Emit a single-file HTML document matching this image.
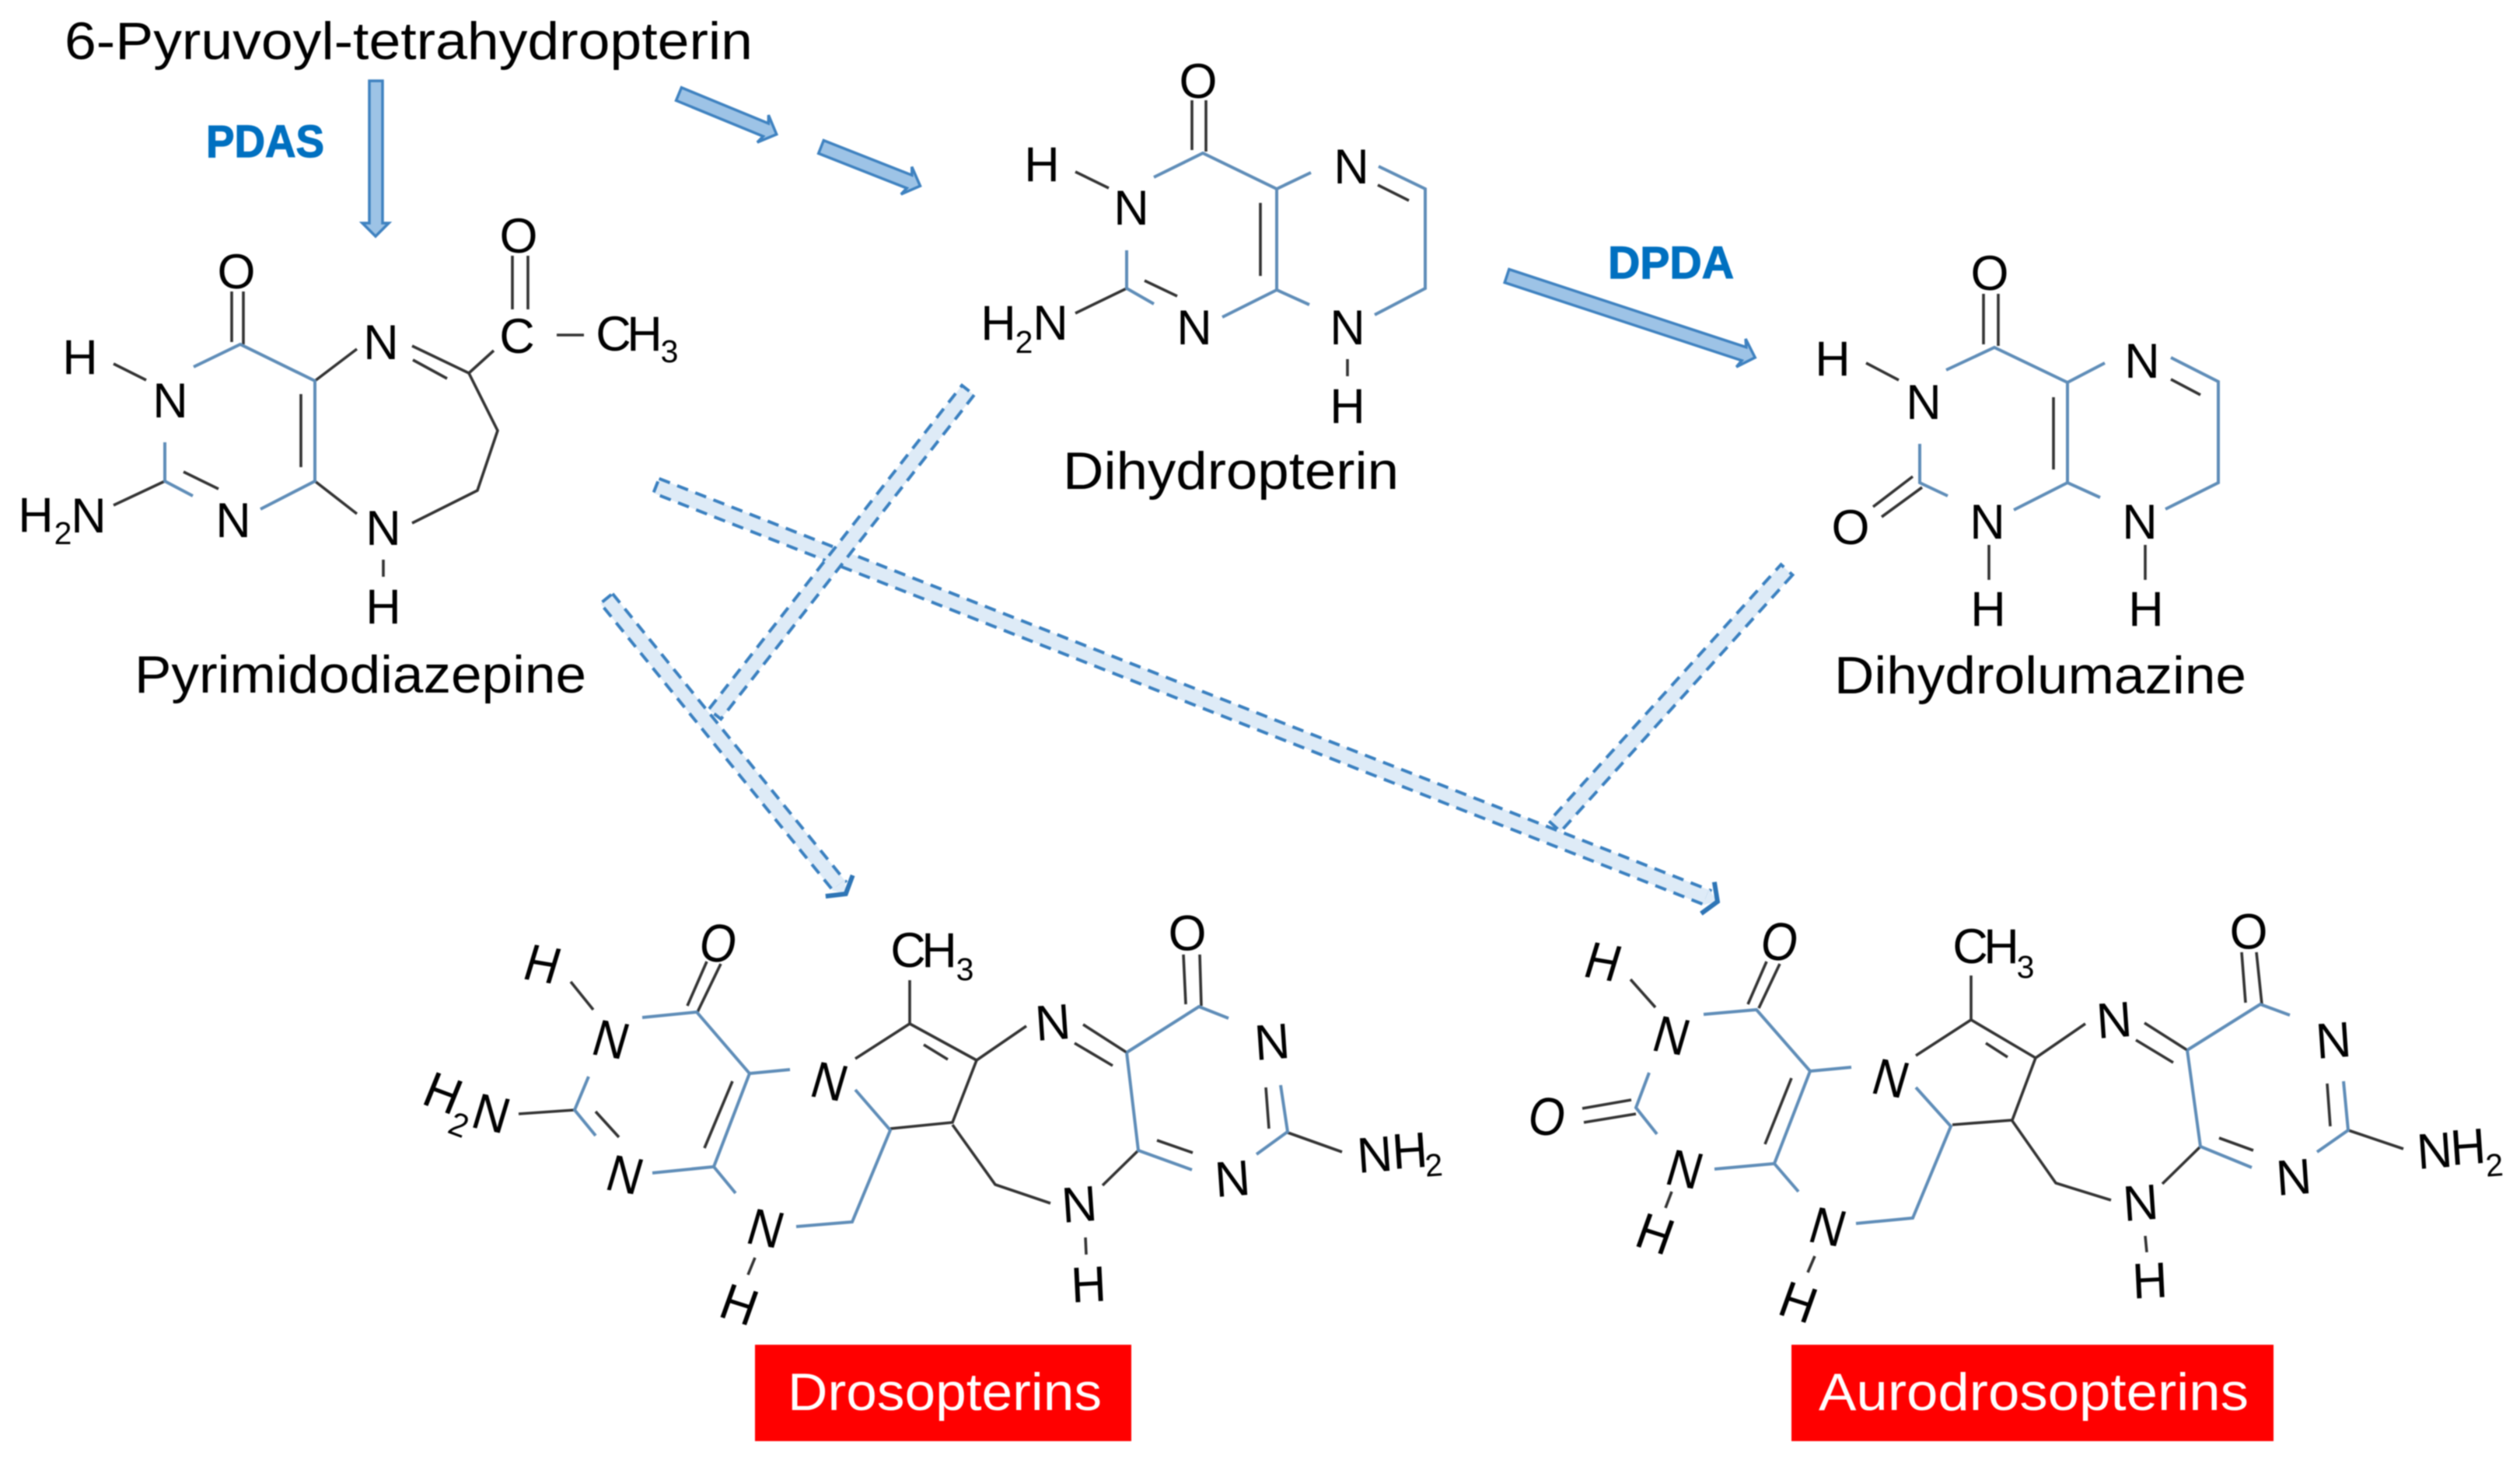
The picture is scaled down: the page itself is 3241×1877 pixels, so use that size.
<!DOCTYPE html>
<html><head><meta charset="utf-8">
<style>
html,body{margin:0;padding:0;background:#fff}
svg{display:block;filter:blur(.7px)}
text{font-family:"Liberation Sans",sans-serif;fill:#000}
.a{font-size:63px;text-anchor:middle}
.s{font-size:41px;text-anchor:middle}
.l{font-size:68px}
.e{font-size:58px;font-weight:bold;fill:#0070C0;stroke:#0070C0;stroke-width:1.2px}
.w{font-size:68px;fill:#fff}
.k{fill:none;stroke:#333;stroke-width:3.6}
.b{fill:none;stroke:#5f8db8;stroke-width:4}
.ar{fill:#9DC3E6;stroke:#3f82c0;stroke-width:3.5}
.d{fill:#DEEBF7;stroke:#3a80c0;stroke-width:4;stroke-dasharray:15 10}
.df{fill:#DEEBF7}
.dh{fill:none;stroke:#2e75b6;stroke-width:6}
</style></head><body>
<svg width="3241" height="1877" viewBox="0 0 3241 1877" xmlns="http://www.w3.org/2000/svg">
<rect width="3241" height="1877" fill="#fff"/>

<!-- solid arrows -->
<polygon class="ar" points="475,104 492,104 492,287 500,287 483,304 466,287 475,287"/>
<g transform="translate(873 121) rotate(22.4)"><polygon class="ar" points="0,-9 121,-9 117,-19 136,0 117,19 121,9 0,9"/></g>
<g transform="translate(1056 189) rotate(21.5)"><polygon class="ar" points="0,-9 122,-9 118,-19 137,0 118,19 122,9 0,9"/></g>
<g transform="translate(1938 355) rotate(18.2)"><polygon class="ar" points="0,-9 321,-9 317,-19 336,0 317,19 321,9 0,9"/></g>

<!-- dashed arrows -->
<g transform="translate(844 625) rotate(21.4)"><rect class="d" x="0" y="-10" width="1452" height="20"/><path class="df" d="M1450-11L1466,0L1450,11Z"/><path class="dh" d="M1453-22L1466,0L1452,22"/></g>
<g transform="translate(780 770) rotate(51)"><rect class="d" x="0" y="-10" width="476" height="20"/><path class="df" d="M474-11L489,0L474,11Z"/><path class="dh" d="M476-22L489,0L475,22"/></g>
<g transform="translate(1245 502) rotate(128)"><rect class="d" x="0" y="-10" width="529" height="20"/></g>
<g transform="translate(2298 733) rotate(132.1)"><rect class="d" x="0" y="-10" width="445" height="20"/></g>

<!-- Pyrimidodiazepine -->
<path class="k" d="M146,468L188,489M405,490L459,449M387,507L387,601M405,619L459,661M212,619L146,650M236,607L281,629M530,445L603,480M531,463L575,487M603,480L635,451M603,480L640,554L614,631L530,673M659,329L659,398M679,329L679,398M298,375L298,440M313,375L313,443M716,431L751,431M493,720L493,742"/>
<path class="b" d="M249,472L309,443L405,490L405,619L335,655M212,569L212,619L248,638"/>
<text class="a" x="304" y="371">O</text><text class="a" x="103" y="481">H</text><text class="a" x="219" y="537">N</text><text class="a" x="300" y="691">N</text>
<text class="a" x="46" y="684">H</text><text class="s" x="81" y="700">2</text><text class="a" x="114" y="685">N</text>
<text class="a" x="490" y="462">N</text><text class="a" x="665" y="454">C</text><text class="a" x="789" y="451">C</text><text class="a" x="829" y="451">H</text><text class="s" x="861" y="466">3</text>
<text class="a" x="667" y="325">O</text><text class="a" x="493" y="701">N</text><text class="a" x="493" y="802">H</text>

<!-- Dihydropterin -->
<path class="k" d="M1533,129L1533,193M1551,129L1551,195M1383,221L1426,242M1772,238L1812,258M1621,261L1621,355M1472,361L1514,381M1449,371L1383,403M1733,462L1733,484"/>
<path class="b" d="M1484,228L1547,197L1642,243L1686,222M1773,214L1833,243L1833,371L1768,405M1642,243L1642,373L1684,392M1642,373L1572,408M1449,322L1449,371L1484,391"/>
<text class="a" x="1541" y="126">O</text><text class="a" x="1340" y="233">H</text><text class="a" x="1455" y="289">N</text><text class="a" x="1738" y="236">N</text><text class="a" x="1733" y="443">N</text><text class="a" x="1536" y="443">N</text>
<text class="a" x="1284" y="437">H</text><text class="s" x="1317" y="454">2</text><text class="a" x="1351" y="437">N</text><text class="a" x="1733" y="544">H</text>

<!-- Dihydrolumazine -->
<path class="k" d="M2551,378L2551,443M2570,378L2570,445M2400,467L2442,489M2792,488L2830,508M2641,511L2641,604M2460,613L2409,652M2472,627L2420,665M2558,701L2558,746M2759,701L2759,746"/>
<path class="b" d="M2503,476L2565,447L2659,492L2707,467M2792,460L2853,491L2853,621L2785,655M2659,492L2659,621L2701,640M2659,621L2590,656M2469,571L2469,621L2505,638"/>
<text class="a" x="2559" y="373">O</text><text class="a" x="2357" y="483">H</text><text class="a" x="2474" y="539">N</text><text class="a" x="2755" y="486">N</text><text class="a" x="2752" y="693">N</text><text class="a" x="2556" y="693">N</text>
<text class="a" x="2380" y="700">O</text><text class="a" x="2557" y="805">H</text><text class="a" x="2760" y="805">H</text>

<!-- Drosopterins -->
<path class="k" d="M909,1237L884,1294M927,1240L897,1302M734,1263L763,1299M942,1391L906,1477M739,1428L667,1433M766,1430L796,1463M971,1618L962,1640M1145,1452L1225,1444L1256,1364M1225,1447L1280,1524L1351,1548M1418,1525L1464,1480M1396,1592L1397,1614M1100,1362L1170,1317L1256,1364M1188,1344L1219,1363M1170,1261L1170,1317M1256,1364L1320,1320M1393,1318L1449,1354M1382,1342L1431,1371M1522,1228L1525,1292M1543,1228L1545,1294M1488,1467L1534,1483M1628,1399L1632,1452M1656,1457L1726,1482"/>
<path class="b" d="M826,1309L896,1302L964,1381L1016,1376M964,1381L918,1501L839,1509M918,1501L946,1535M757,1385L739,1428L766,1461M1024,1578L1096,1572L1145,1454L1100,1402M1449,1354L1542,1295L1580,1310M1449,1354L1464,1480L1533,1505M1647,1396L1656,1456L1616,1485"/>
<text class="a" y="22" transform="matrix(.95 .1 -.2 1.08 924 1213)">O</text>
<text class="a" y="22" transform="matrix(.95 .16 -.31 1.02 698 1240)">H</text>
<text class="a" y="22" transform="matrix(.95 .16 -.3 1.02 786 1337)">N</text>
<text class="a" y="22" transform="matrix(.95 .16 -.3 1.02 1067 1391)">N</text>
<text class="a" y="22" transform="matrix(.95 .16 -.3 1.02 804 1511)">N</text>
<text class="a" y="22" transform="matrix(.95 .16 -.3 1.02 985 1580)">N</text>
<text class="a" y="22" transform="matrix(.94 .35 -.39 .96 570 1406)">H</text>
<text class="s" y="14" transform="matrix(.94 .35 -.39 .96 590 1447)">2</text>
<text class="a" y="22" transform="matrix(.98 .2 -.3 1 632 1432)">N</text>
<text class="a" y="22" transform="matrix(.95 .3 -.35 .98 951 1678)">H</text>
<text class="a" y="22" transform="matrix(.998 -.07 .07 1.02 1354 1315)">N</text>
<text class="a" y="22" transform="matrix(.998 -.07 .07 1.02 1388 1549)">N</text>
<text class="a" y="22" transform="matrix(.998 -.07 .07 1.02 1636 1340)">N</text>
<text class="a" y="22" transform="matrix(.998 -.07 .07 1.02 1585 1516)">N</text>
<text class="a" y="22" transform="matrix(.998 -.05 .05 1.02 1400 1652)">H</text>
<text class="a" y="22" transform="matrix(.998 -.03 .03 1.02 1527 1200)">O</text>
<text class="a" x="1168" y="1244">C</text><text class="a" x="1208" y="1244">H</text><text class="s" x="1241" y="1261">3</text>
<text class="a" y="22" transform="matrix(.998 -.07 .07 1.02 1768 1485)">N</text>
<text class="a" y="22" transform="matrix(.998 -.07 .07 1.02 1813 1480)">H</text>
<text class="s" y="14" transform="matrix(.998 -.07 .07 .998 1844 1499)">2</text>

<!-- Aurodrosopterins -->
<path class="k" d="M2272,1237L2248,1292M2289,1240L2262,1297M2097,1260L2129,1296M2304,1387L2270,1472M2035,1426L2098,1415M2037,1444L2104,1433M2150,1533L2142,1554M2334,1616L2325,1637M2511,1447L2588,1441L2618,1361M2588,1442L2644,1522L2715,1544M2781,1523L2830,1475M2759,1590L2761,1611M2464,1358L2535,1312L2618,1361M2554,1342L2582,1360M2535,1255L2535,1312M2618,1361L2682,1317M2758,1316L2813,1351M2747,1338L2795,1367M2883,1225L2888,1290M2902,1225L2909,1292M2854,1464L2898,1480M2993,1394L2997,1449M3020,1454L3091,1478"/>
<path class="b" d="M2191,1305L2259,1299L2328,1378L2381,1373M2328,1378L2282,1497L2205,1504M2282,1497L2313,1533M2121,1380L2104,1425L2131,1459M2387,1574L2460,1567L2509,1449L2464,1399M2813,1351L2907,1292L2945,1306M2813,1351L2830,1475L2896,1502M3014,1391L3020,1454L2980,1482"/>
<text class="a" y="22" transform="matrix(.95 .1 -.2 1.08 2289 1211)">O</text>
<text class="a" y="22" transform="matrix(.95 .16 -.31 1.02 2062 1237)">H</text>
<text class="a" y="22" transform="matrix(.95 .16 -.3 1.02 2150 1332)">N</text>
<text class="a" y="22" transform="matrix(.95 .16 -.3 1.02 2432 1387)">N</text>
<text class="a" y="22" transform="matrix(.95 .16 -.3 1.02 2167 1504)">N</text>
<text class="a" y="22" transform="matrix(.95 .16 -.3 1.02 2351 1578)">N</text>
<text class="a" y="22" transform="matrix(.95 .1 -.2 1.08 1990 1436)">O</text>
<text class="a" y="22" transform="matrix(.95 .3 -.35 .98 2129 1587)">H</text>
<text class="a" y="22" transform="matrix(.95 .3 -.35 .98 2313 1675)">H</text>
<text class="a" y="22" transform="matrix(.998 -.07 .07 1.02 2719 1312)">N</text>
<text class="a" y="22" transform="matrix(.998 -.07 .07 1.02 2753 1547)">N</text>
<text class="a" y="22" transform="matrix(.998 -.07 .07 1.02 3001 1338)">N</text>
<text class="a" y="22" transform="matrix(.998 -.07 .07 1.02 2950 1514)">N</text>
<text class="a" y="22" transform="matrix(.998 -.05 .05 1.02 2765 1647)">H</text>
<text class="a" y="22" transform="matrix(.998 -.03 .03 1.02 2892 1198)">O</text>
<text class="a" x="2534" y="1239">C</text><text class="a" x="2574" y="1239">H</text><text class="s" x="2605" y="1258">3</text>
<text class="a" y="22" transform="matrix(.998 -.07 .07 1.02 3131 1480)">N</text>
<text class="a" y="22" transform="matrix(.998 -.07 .07 1.02 3174 1475)">H</text>
<text class="s" y="14" transform="matrix(.998 -.07 .07 .998 3208 1499)">2</text>

<!-- titles -->
<text class="l" x="83" y="76" textLength="885" lengthAdjust="spacingAndGlyphs">6-Pyruvoyl-tetrahydropterin</text>
<text class="l" x="173" y="891" textLength="581" lengthAdjust="spacingAndGlyphs">Pyrimidodiazepine</text>
<text class="l" x="1367" y="629" textLength="432" lengthAdjust="spacingAndGlyphs">Dihydropterin</text>
<text class="l" x="2359" y="892" textLength="530" lengthAdjust="spacingAndGlyphs">Dihydrolumazine</text>
<text class="e" x="265" y="202" textLength="152" lengthAdjust="spacingAndGlyphs">PDAS</text>
<text class="e" x="2068" y="358" textLength="162" lengthAdjust="spacingAndGlyphs">DPDA</text>

<rect x="971" y="1730" width="484" height="124" fill="#ff0000"/>
<text class="w" x="1013" y="1814" textLength="404" lengthAdjust="spacingAndGlyphs">Drosopterins</text>
<rect x="2304" y="1730" width="620" height="124" fill="#ff0000"/>
<text class="w" x="2339" y="1814" textLength="553" lengthAdjust="spacingAndGlyphs">Aurodrosopterins</text>
</svg>
</body></html>
